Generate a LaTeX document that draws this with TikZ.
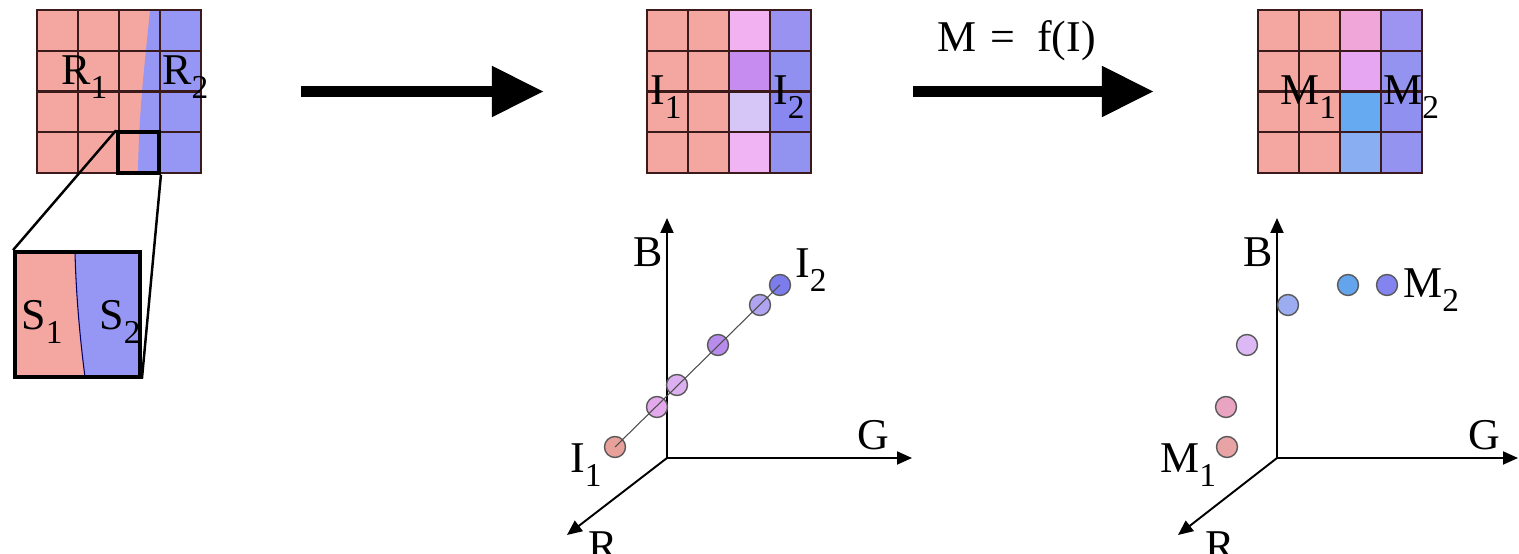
\documentclass[tikz,border=0pt]{standalone}
\usepackage{fontspec}
\setmainfont{Liberation Serif}
\usetikzlibrary{arrows.meta,positioning}

\definecolor{skin}{HTML}{F4A7A0}
\definecolor{lilac}{HTML}{9696F4}
\definecolor{gridink}{HTML}{3A1A1A}
% middle grid, columns 3 and 4 (top to bottom)
\definecolor{iA}{HTML}{F2B2F2}
\definecolor{iB}{HTML}{C68CF0}
\definecolor{iC}{HTML}{D6C6F8}
\definecolor{iD}{HTML}{F0B4F4}
\definecolor{iE}{HTML}{9A92F0}
\definecolor{iF}{HTML}{9090F0}
\definecolor{iG}{HTML}{8888F0}
\definecolor{iH}{HTML}{9292F0}
% right grid, columns 3 and 4 (top to bottom)
\definecolor{mA}{HTML}{F0A6D8}
\definecolor{mB}{HTML}{E6A6F2}
\definecolor{mC}{HTML}{66AAF2}
\definecolor{mD}{HTML}{8AAEF2}
\definecolor{mE}{HTML}{9C94F0}
\definecolor{mF}{HTML}{9494F0}
\definecolor{mG}{HTML}{9090F0}
\definecolor{mH}{HTML}{9494F0}
% scatter dots
\definecolor{dA}{HTML}{E8A09A}
\definecolor{dB}{HTML}{E4A8EC}
\definecolor{dC}{HTML}{DCB0F0}
\definecolor{dD}{HTML}{B88CEC}
\definecolor{dE}{HTML}{B0A4F0}
\definecolor{dF}{HTML}{7C7CEC}
\definecolor{eA}{HTML}{E8A4A4}
\definecolor{eB}{HTML}{E8A4C0}
\definecolor{eC}{HTML}{DCB8F4}
\definecolor{eD}{HTML}{9CACF0}
\definecolor{eE}{HTML}{64A4EC}
\definecolor{eF}{HTML}{8484F0}

\newcommand{\sublab}[2]{#1\raisebox{-0.3em}{\fontsize{19}{19}\selectfont#2}}
\newcommand{\cellgrid}[2]{%
  \foreach \k in {1,2,3}{%
    \draw[gridline] (#1+41*\k,#2) -- ++(0,163);
    \draw[gridline] (#1,#2+40.75*\k) -- ++(164,0);}}

\begin{document}
\begin{tikzpicture}[
  x=0.02cm, y=0.02cm,
  font=\fontsize{25}{30}\selectfont,
  gridline/.style={draw=gridink, line width=1.25pt},
  grid/.style={draw=gridink, line width=1.25pt, inner sep=0pt, minimum width=3.28cm, minimum height=3.26cm},
  thickbox/.style={draw=black, line width=2.2pt, inner sep=0pt},
  zoomline/.style={draw=black, line width=1.4pt},
  seam/.style={draw=black!60!blue, line width=0.6pt},
  lbl/.style={anchor=base west, inner sep=0pt},
  bigarrow/.style={-{Triangle[length=1.04cm,width=0.96cm]}, line width=6.4pt},
  axis/.style={-{Triangle[length=0.3cm,width=0.26cm]}, line width=1.1pt},
  dot/.style={circle, draw=black!65, line width=0.8pt, minimum size=0.42cm, inner sep=0pt},
  trend/.style={draw=black!70, line width=0.6pt}
]
\useasboundingbox (0,0) rectangle (1519,554);

% segmented grid
\fill[skin] (37,381) rectangle (201,544);
\fill[lilac] (150,544) .. controls (146,500) and (139,450) .. (138,381) -- (201,381) -- (201,544) -- cycle;
\cellgrid{37}{381}
\node[grid] (gridR) at (119,462.5) {};
\node[thickbox, minimum width=0.82cm, minimum height=0.815cm] (cellS) at (138.5,401.4) {};
\node[lbl] (labR1) at (61,469) {\sublab{R}{1}};
\node[lbl] (labR2) at (162,469) {\sublab{R}{2}};

% zoomed cell
\fill[skin] (15,177) rectangle (140,302);
\fill[lilac] (75,302) .. controls (76,260) and (80,215) .. (85,177) -- (140,177) -- (140,302) -- cycle;
\draw[seam] (75,302) .. controls (76,260) and (80,215) .. (85,177);
\node[thickbox, minimum size=2.5cm] (zoomS) at (77.5,239.5) {};
\draw[zoomline] (cellS.north west) -- (zoomS.north west);
\draw[zoomline] (cellS.south east) -- (zoomS.south east);
\node[lbl] (labS1) at (21,224) {\sublab{S}{1}};
\node[lbl] (labS2) at (99,224) {\sublab{S}{2}};

% input image
\fill[skin] (647,381) rectangle (811,544);
\foreach \clr [count=\r] in {iA,iB,iC,iD}
  \fill[\clr] (729,544-40.75*\r) rectangle ++(41,40.75);
\foreach \clr [count=\r] in {iE,iF,iG,iH}
  \fill[\clr] (770,544-40.75*\r) rectangle ++(41,40.75);
\cellgrid{647}{381}
\node[grid] (gridI) at (729,462.5) {};
\node[lbl] (labI1) at (650,449) {\sublab{I}{1}};
\node[lbl] (labI2) at (773,449) {\sublab{I}{2}};

% matted image
\fill[skin] (1258,381) rectangle (1422,544);
\foreach \clr [count=\r] in {mA,mB,mC,mD}
  \fill[\clr] (1340,544-40.75*\r) rectangle ++(41,40.75);
\foreach \clr [count=\r] in {mE,mF,mG,mH}
  \fill[\clr] (1381,544-40.75*\r) rectangle ++(41,40.75);
\cellgrid{1258}{381}
\node[grid] (gridM) at (1340,462.5) {};
\node[lbl] (labM1) at (1280,449) {\sublab{M}{1}};
\node[lbl] (labM2) at (1383,449) {\sublab{M}{2}};

\draw[bigarrow, shorten <=1.98cm, shorten >=2.04cm] (gridR) -- (gridI);
\draw[bigarrow, shorten <=2.02cm, shorten >=2.06cm] (gridI) -- (gridM);
\node[lbl] (fmap) at (937,502) {M\hspace{0.32em}=\hspace{0.5em}f(I)};

% RGB space of I
\coordinate (oI) at (667,96);
\coordinate (bI) at (667,336);
\coordinate (gI) at (912,96);
\coordinate (rI) at (567,19);
\draw[axis] (oI) -- (bI);
\draw[axis] (oI) -- (gI);
\draw[axis] (oI) -- (rI);
\node[lbl] (axBI) at (633,287) {B};
\node[lbl] (axGI) at (857,104) {G};
\node[lbl] (axRI) at (588,-7) {R};
\foreach \px/\py/\clr [count=\n] in {615/107/dA, 657/147/dB, 677/169/dC, 718/209/dD, 760/249/dE, 780/269/dF}
  \node[dot, fill=\clr] (dI\n) at (\px,\py) {};
\draw[trend] (dI1.center) -- (dI6.center);
\node[lbl] (ptI1) at (570,81) {\sublab{I}{1}};
\node[lbl] (ptI2) at (795,276) {\sublab{I}{2}};

% RGB space of M
\coordinate (oM) at (1277,96);
\coordinate (bM) at (1277,336);
\coordinate (gM) at (1518,96);
\coordinate (rM) at (1178,19);
\draw[axis] (oM) -- (bM);
\draw[axis] (oM) -- (gM);
\draw[axis] (oM) -- (rM);
\node[lbl] (axBM) at (1243,287) {B};
\node[lbl] (axGM) at (1468,104) {G};
\node[lbl] (axRM) at (1205,-7) {R};
\foreach \px/\py/\clr [count=\n] in {1227/107/eA, 1226/147/eB, 1247/209/eC, 1288/249/eD, 1348/269/eE, 1387/269/eF}
  \node[dot, fill=\clr] (dM\n) at (\px,\py) {};
\node[lbl] (ptM1) at (1160,81) {\sublab{M}{1}};
\node[lbl] (ptM2) at (1403,256) {\sublab{M}{2}};

\end{tikzpicture}
\end{document}
